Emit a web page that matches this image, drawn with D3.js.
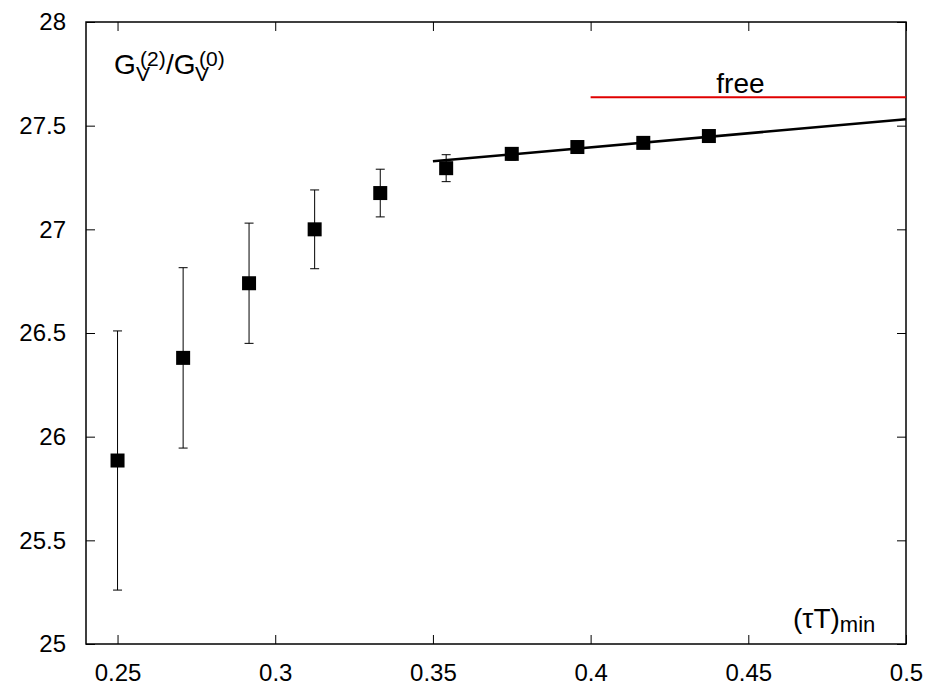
<!DOCTYPE html>
<html>
<head>
<meta charset="utf-8">
<script src="https://cdn.jsdelivr.net/npm/d3@7/dist/d3.min.js"></script>
<style>
  body { margin: 0; background: #fff; }
  text { font-family: "Liberation Sans", Arial, sans-serif; fill: #000; }
</style>
</head>
<body>
<svg width="929" height="687"></svg>
<script>
// data
var tauMin = [0.25, 0.2708, 0.2917, 0.3125, 0.3333, 0.3542, 0.375, 0.3958, 0.4167, 0.4375];
var ratio  = [25.885, 26.38, 26.74, 27.00, 27.175, 27.295, 27.364, 27.397, 27.417, 27.45];
var errs   = [0.625, 0.435, 0.29, 0.19, 0.115, 0.065, 0.03, 0.02, 0.02, 0.02];
var fitX = [0.35, 0.5];
var fitY = [27.328, 27.531];
var freeX = [0.4, 0.5];
var freeValue = 27.637;
var xTicks = [0.25, 0.3, 0.35, 0.4, 0.45, 0.5];
var yTicks = [25, 25.5, 26, 26.5, 27, 27.5, 28];

var svg = d3.select("svg"),
    width = +svg.attr("width"),
    height = +svg.attr("height");

var margin = {left: 86, right: 23, top: 22, bottom: 43};
var x = d3.scaleLinear().domain([0.24, 0.5]).range([margin.left, width - margin.right]);
var y = d3.scaleLinear().domain([25, 28]).range([height - margin.bottom, margin.top]);

var tickLen = 9;

// axes (ticks point inward, mirrored on all four sides)
svg.append("g")
    .attr("transform", "translate(0," + y(25) + ")")
    .call(d3.axisBottom(x).tickValues(xTicks).tickSizeInner(-tickLen).tickSizeOuter(0).tickPadding(20)
      .tickFormat(function(d){ return String(+d.toFixed(2)) }))
    .call(function(g){ g.select(".domain").remove() });
svg.append("g")
    .attr("transform", "translate(0," + y(28) + ")")
    .call(d3.axisTop(x).tickValues(xTicks).tickSizeInner(-tickLen).tickSizeOuter(0).tickFormat(""))
    .call(function(g){ g.select(".domain").remove() });
svg.append("g")
    .attr("transform", "translate(" + x(0.24) + ",0)")
    .call(d3.axisLeft(y).tickValues(yTicks).tickSizeInner(-tickLen).tickSizeOuter(0).tickPadding(20)
      .tickFormat(function(d){ return String(d) }))
    .call(function(g){ g.select(".domain").remove() });
svg.append("g")
    .attr("transform", "translate(" + x(0.5) + ",0)")
    .call(d3.axisRight(y).tickValues(yTicks).tickSizeInner(-tickLen).tickSizeOuter(0).tickFormat(""))
    .call(function(g){ g.select(".domain").remove() });

svg.selectAll(".tick text").style("font-size", "24px").attr("font-family", "Liberation Sans, Arial, sans-serif");
svg.selectAll(".tick line").attr("stroke", "#000").attr("stroke-width", 1);

// frame
svg.append("rect")
    .attr("x", x(0.24)).attr("y", y(28))
    .attr("width", x(0.5) - x(0.24)).attr("height", y(25) - y(28))
    .attr("fill", "none").attr("stroke", "#000").attr("stroke-width", 1.5);

// free value
svg.append("line")
    .attr("x1", x(freeX[0])).attr("x2", x(freeX[1]))
    .attr("y1", y(freeValue)).attr("y2", y(freeValue))
    .attr("stroke", "#e00000").attr("stroke-width", 2);
svg.append("text")
    .attr("x", x(0.4475)).attr("y", y(freeValue) - 4)
    .attr("text-anchor", "middle").style("font-size", "28px")
    .text("free");

// linear fit
svg.append("path")
    .datum(d3.zip(fitX, fitY))
    .attr("d", d3.line().x(function(d){ return x(d[0]) }).y(function(d){ return y(d[1]) }))
    .attr("fill", "none").attr("stroke", "#000").attr("stroke-width", 2.5);

// error bars
var pts = d3.zip(tauMin, ratio, errs);
var eb = svg.append("g").attr("stroke", "#000").attr("stroke-width", 1);
eb.selectAll("line.v").data(pts).enter().append("line")
    .attr("x1", function(d){ return x(d[0]) }).attr("x2", function(d){ return x(d[0]) })
    .attr("y1", function(d){ return y(d[1] + d[2]) }).attr("y2", function(d){ return y(d[1] - d[2]) });
eb.selectAll("line.t").data(pts).enter().append("line")
    .attr("x1", function(d){ return x(d[0]) - 4.5 }).attr("x2", function(d){ return x(d[0]) + 4.5 })
    .attr("y1", function(d){ return y(d[1] + d[2]) }).attr("y2", function(d){ return y(d[1] + d[2]) });
eb.selectAll("line.b").data(pts).enter().append("line")
    .attr("x1", function(d){ return x(d[0]) - 4.5 }).attr("x2", function(d){ return x(d[0]) + 4.5 })
    .attr("y1", function(d){ return y(d[1] - d[2]) }).attr("y2", function(d){ return y(d[1] - d[2]) });

// squares
var s = 14;
svg.selectAll("rect.pt").data(pts).enter().append("rect")
    .attr("x", function(d){ return x(d[0]) - s / 2 })
    .attr("y", function(d){ return y(d[1]) - s / 2 })
    .attr("width", s).attr("height", s).attr("fill", "#000");

// y label: G_V^(2)/G_V^(0), sub and sup stacked
function stacked(g, x0, base, sub, sup) {
  g.append("text").attr("x", x0).attr("y", base + 7).style("font-size", "21px").text(sub);
  g.append("text").attr("x", x0 + 4).attr("y", base - 8).style("font-size", "21px").text(sup);
}
var yl = svg.append("g");
yl.append("text").attr("x", 114).attr("y", 74).style("font-size", "28px").text("G");
stacked(yl, 136, 74, "V", "(2)");
yl.append("text").attr("x", 166).attr("y", 74).style("font-size", "28px").text("/G");
stacked(yl, 195, 74, "V", "(0)");

// x label
var xl = svg.append("text").attr("x", 793).attr("y", 628).style("font-size", "28px");
xl.append("tspan").text("(\u03C4T)");
xl.append("tspan").attr("dy", 4).style("font-size", "22px").text("min");
</script>
</body>
</html>
